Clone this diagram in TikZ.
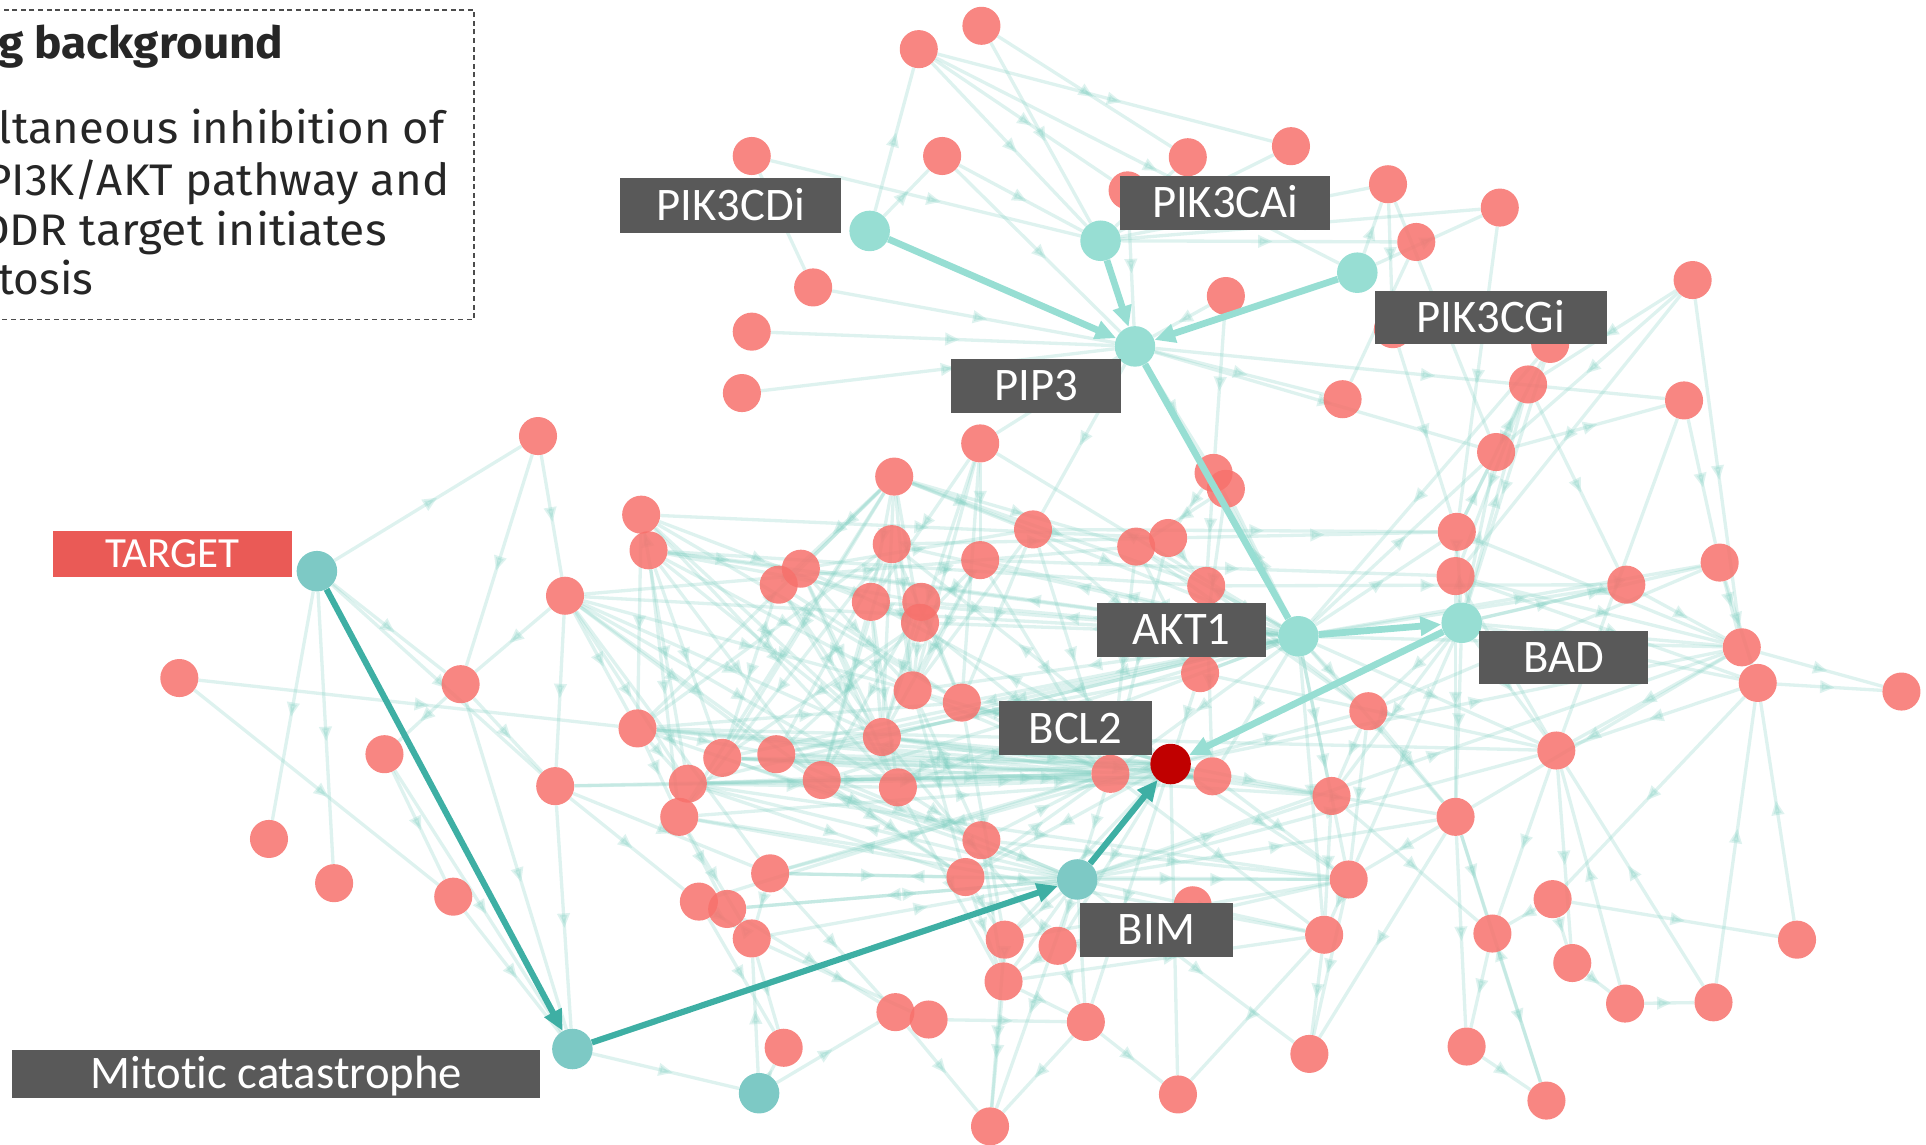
\documentclass[tikz,border=0pt]{standalone}
\usepackage{fontspec}
\setmainfont{Carlito}[Ligatures=NoCommon]
\newfontfamily\boxfont{Fira Sans}
\usetikzlibrary{arrows.meta,decorations.markings}
\definecolor{rednode}{HTML}{F7716C}
\definecolor{tealL}{HTML}{97DED3}
\definecolor{tealD}{HTML}{7DC9C5}
\definecolor{hlD}{HTML}{3EAFA4}
\definecolor{edgec}{HTML}{7CCDBF}
\definecolor{lblgray}{HTML}{595959}
\definecolor{tgtred}{HTML}{EA5A56}
\definecolor{bclred}{HTML}{C00000}
\definecolor{boxtext}{HTML}{262626}
\pgfdeclarelayer{edges}
\pgfdeclarelayer{reds}
\pgfdeclarelayer{hl}
\pgfsetlayers{edges,reds,hl,main}
\tikzset{
  rnode/.style={circle,minimum size=31pt,inner sep=0pt,fill=rednode,fill opacity=0.85,draw=none},
  tnode/.style={circle,minimum size=33pt,inner sep=0pt,fill=tealL,draw=none},
  dnode/.style={circle,minimum size=33pt,inner sep=0pt,fill=tealD,draw=none},
  bge/.style={draw=edgec,line width=2.7pt,opacity=0.25,postaction={decorate},
    decoration={markings,mark=at position 0.55 with {\arrow{Triangle[length=12pt,width=10pt]}}}},
  hlL/.style={draw=tealL,line width=5.5pt,-{Triangle[length=17pt,width=15pt]}},
  hlLn/.style={draw=tealL,line width=5.5pt},
  hlDk/.style={draw=hlD,line width=5pt,-{Triangle[length=17pt,width=15pt]}},
  lblbox/.style={rectangle,fill=lblgray,inner sep=0pt},
  lbltext/.style={text=white,inner sep=0pt,font=\fontsize{38}{44}\selectfont},
  bx/.style={anchor=base east,inner sep=0pt,text=boxtext,font=\boxfont\fontsize{36}{42}\selectfont},
}
\begin{document}
\begin{tikzpicture}[x=1pt,y=-1pt]
\useasboundingbox (0,0) rectangle (1568,932);
\clip (0,0) rectangle (1568,932);
% red nodes
\begin{pgfonlayer}{reds}
\foreach \n/\x/\y in {1/799/21,2/748/40,3/612/127,4/767/127,5/967/128,6/1051/119,7/1130/150,8/1221/169,9/1153/197,10/918/155,
11/662/234,12/612/270,13/604/320,14/998/241,15/1378/228,16/1262/280,17/1134/268,18/1244/313,19/1093/325,20/1371/326,
21/798/361,22/1218/368,23/438/355,24/728/388,25/988/385,26/998/398,27/522/419,28/528/448,29/841/431,30/726/443,
31/925/445,32/951/438,33/1186/433,34/1185/469,35/1400/458,36/1324/476,37/460/485,38/652/463,39/634/476,40/798/456,
41/709/490,42/750/490,43/749/507,44/982/477,45/146/552,46/375/557,47/743/562,48/783/572,49/977/548,50/1418/527,
51/1431/556,52/1548/563,53/313/614,54/519/593,55/588/617,56/632/614,57/718/600,58/1114/579,59/1267/611,60/560/638,
61/553/665,62/452/640,63/669/635,64/731/641,65/904/630,66/987/632,67/1084/648,68/219/683,69/272/719,70/799/684,
71/1185/665,72/627/711,73/786/714,74/1098/716,75/369/730,76/569/734,77/592/740,78/1264/732,79/612/764,80/818/765,
81/861/770,82/1078/761,83/1215/760,84/1463/765,85/1280/784,86/817/799,87/729/824,88/756/830,89/884/832,90/1323/817,
91/1395/816,92/638/853,93/1066/858,94/1194/852,95/959/891,96/806/917,97/1259/896,98/971/737}
  \node[rnode] (r\n) at (\x,\y) {};
\end{pgfonlayer}
% special nodes
\node[tnode] (cdi) at (708,188) {};
\node[tnode] (cai) at (896,196) {};
\node[tnode] (cgi) at (1105,222) {};
\node[tnode] (pip) at (924,282) {};
\node[tnode] (akt) at (1057,518) {};
\node[tnode] (bad) at (1190,507) {};
\node[dnode] (tgt) at (258,465) {};
\node[dnode] (mit) at (466,854) {};
\node[dnode] (t2) at (618,890) {};
\node[dnode] (bim) at (877,716) {};
\node[circle,minimum size=33pt,inner sep=0pt,fill=bclred] (bcl) at (953,622) {};
% background edges
\begin{pgfonlayer}{edges}
\foreach \a/\b in {r2/cai,r2/r10,r2/r6,r2/cgi,r1/cai,r1/r5,r3/cai,r4/cai,r4/pip,cdi/r4,cdi/r2,r11/pip,r12/pip,r13/pip,r10/pip,
r5/cai,r6/cai,cai/r7,cai/r8,cai/r9,cgi/r7,cgi/r8,r7/r17,r7/r22,r8/r33,r9/r19,r15/r34,r15/r18,r15/r22,r14/pip,r14/r25,
pip/r19,pip/r20,pip/r25,pip/r21,pip/r29,pip/r22,r16/r33,r18/r36,r20/r59,r17/r33,r16/akt,r3/r11,
r23/r37,r23/r46,tgt/r23,tgt/r68,tgt/r69,tgt/r46,tgt/r62,r45/r54,r45/r75,r46/r53,r46/r62,r46/mit,r53/r75,r37/r54,r37/r62,
r37/r46,r27/r28,r27/r54,r27/r60,r27/r41,r28/r55,r28/r61,r28/r47,r28/r38,r37/r56,r37/r63,r37/r72,r54/r60,r54/r61,r54/r56,
r54/r24,r54/r30,r54/r48,r54/r65,r62/r72,r62/r76,r62/mit,r75/mit,r61/r77,r61/r79,r60/r64,r60/r73,mit/t2,r53/mit,
r24/r38,r24/r39,r24/r41,r24/r55,r24/r61,r24/r31,r24/r44,r24/r29,r24/akt,r30/r56,r30/r63,r30/r32,r38/r57,r38/r29,r39/r55,
r39/r64,r41/r57,r42/r48,r43/r47,r43/r65,r47/r70,r47/r73,r48/r80,r48/r66,r57/r81,r63/r73,r64/r86,r21/r40,r21/r41,r21/r47,
r29/r49,r29/r33,r31/r49,r32/r44,r32/r33,r40/r43,r40/r34,r44/akt,r44/r36,r49/bcl,r65/bim,r66/r74,r70/bim,r73/r80,r72/r79,
r76/r92,r77/r87,r79/r88,r86/r96,r87/r96,r88/r89,r80/r96,r81/r89,r70/r86,
akt/r25,akt/r26,akt/r31,akt/r49,akt/r58,akt/r67,akt/r74,akt/r71,akt/r59,akt/r82,akt/r65,akt/r66,akt/r50,akt/r36,akt/r35,
akt/r22,akt/r33,akt/r57,akt/r64,akt/r63,akt/r28,akt/r37,
bcl/r54,bcl/r60,bcl/r55,bcl/r56,bcl/r57,bcl/r30,bcl/r41,bcl/r48,bcl/r65,bcl/r66,bcl/r67,bcl/r58,bcl/r50,bcl/r73,bcl/r74,
bcl/r81,bcl/r89,bcl/r95,bcl/r80,bcl/r72,
bim/r54,bim/r61,bim/r60,bim/r72,bim/r77,bim/r80,bim/r81,bim/r86,bim/r89,bim/r74,bim/r82,bim/r67,bim/r59,bim/r50,bim/r71,
bim/r96,bim/r93,
r33/r34,r33/r22,r22/r18,r22/r20,r33/r50,r34/r50,r34/r51,r34/r59,r34/r71,r36/r50,r35/r50,r35/r51,r20/r35,r15/r50,r50/r52,
r51/r52,r50/r59,r51/r59,r50/r71,r51/r78,r59/r85,r59/r83,r71/r83,r71/r94,r71/r74,r71/r93,r78/r83,r78/r85,r78/r84,r84/r51,
r85/r90,r83/r97,r83/r94,r90/r59,r91/r59,r91/r51,r97/r71,r74/r82,r74/r93,r82/r93,r58/r74,r58/r67,r58/r71,r67/r82,r67/r83,
r58/r35,bad/r50,bad/r33,bad/r34,bad/r59,bad/r71,bad/r35,bad/r36,bad/r58,bad/r51,bad/r67,bad/r74,bad/r22,bad/r18,r16/bad,
r18/r34,r82/r95,r89/r95,r94/r97,r90/r91,
r31/r58,r44/r58,r49/r59,r66/r71,r65/r82,r64/r66,r63/r65,r57/r67,r56/bim,r54/r59,r55/r67,r60/r74,r61/r82,r62/r65,r56/r49,
r28/r44,r27/r32,r37/r31,r73/r86,r72/r87,r76/r79,r77/r79,r79/r92,r86/r89,r80/r86,r81/r86,r89/r96,t2/r79,t2/r92,t2/r87,
r27/r57,r27/r64,r27/r48,r28/r57,r28/r63,r28/r42,r37/r47,r37/r57,r37/r64,r37/r60,r38/r43,r38/r47,r38/r64,r39/r57,r39/r48,
r41/r63,r41/r64,r42/r57,r42/r63,r43/r56,r43/r55,r30/r47,r30/r48,r30/r61,r24/r57,r24/r47,r24/r43,r21/r48,r21/r57,r29/r47,
r29/r48,r29/r65,r40/r47,r40/r57,r40/r65,r31/r65,r32/r65,r44/r49,r44/r66,r26/r31,r25/r44,r25/r32,r26/r49,r47/r65,r47/r66,
r48/r65,r57/r65,r57/r66,r63/r66,r55/r65,r56/r65,r55/r66,r60/r65,r61/r66,r62/r66,r54/r66,r64/r65,r70/r65,r73/r65,r72/r65,
r76/r65,r77/bim,r79/bim,r70/r74,r73/r74,r80/r74,r81/r74,r86/r82,r72/r73,r63/r70,r64/r70,r56/r73,r55/r70,akt/r30,akt/r38,
akt/r41,akt/r42,akt/r43,akt/r47,akt/r48,akt/r55,akt/r56,akt/r60,akt/r21,akt/r40}
  \draw[bge] (\a) -- (\b);
\end{pgfonlayer}
% highlighted edges
\begin{pgfonlayer}{hl}
\draw[hlL] (cdi) -- (pip);
\draw[hlL] (cai) -- (pip);
\draw[hlL] (cgi) -- (pip);
\draw[hlLn] (pip) -- (akt);
\draw[hlL] (akt) -- (bad);
\draw[hlL] (bad) -- (bcl);
\draw[hlDk] (tgt) -- (mit);
\draw[hlDk] (mit) -- (bim);
\draw[hlDk] (bim) -- (bcl);
\end{pgfonlayer}
% labels
\node[lblbox,minimum width=180pt,minimum height=45pt] (lcdi) at (595,167.5) {};
\node[lbltext,anchor=base] at ([yshift=-12pt]lcdi.center) {PIK3CDi};
\node[lblbox,minimum width=171pt,minimum height=44pt] (lcai) at (997.5,165) {};
\node[lbltext,anchor=base] at ([yshift=-12pt]lcai.center) {PIK3CAi};
\node[lblbox,minimum width=139pt,minimum height=44pt] (lpip) at (843.5,314) {};
\node[lbltext,anchor=base] at ([yshift=-12pt]lpip.center) {PIP3};
\node[lblbox,minimum width=189pt,minimum height=43pt] (lcgi) at (1213.5,258.5) {};
\node[lbltext,anchor=base] at ([yshift=-12pt]lcgi.center) {PIK3CGi};
\node[rectangle,fill=tgtred,inner sep=0pt,minimum width=195pt,minimum height=38pt] (ltgt) at (140.5,451) {};
\node[lbltext,anchor=base,font=\fontsize{35}{40}\selectfont] at ([yshift=-11pt]ltgt.center) {TARGET};
\node[lblbox,minimum width=138pt,minimum height=44pt] (lakt) at (962,513) {};
\node[lbltext,anchor=base] at ([yshift=-12pt]lakt.center) {AKT1};
\node[lblbox,minimum width=138pt,minimum height=43pt] (lbad) at (1273,535.5) {};
\node[lbltext,anchor=base] at ([yshift=-12pt]lbad.center) {BAD};
\node[lblbox,minimum width=125pt,minimum height=44pt] (lbcl) at (875.5,593) {};
\node[lbltext,anchor=base] at ([yshift=-12pt]lbcl.center) {BCL2};
\node[lblbox,minimum width=125pt,minimum height=44pt] (lbim) at (941.5,757) {};
\node[lbltext,anchor=base] at ([yshift=-12pt]lbim.center) {BIM};
\node[lblbox,minimum width=430pt,minimum height=39pt] (lmit) at (225,874.5) {};
\node[lbltext,anchor=base] at ([yshift=-12pt]lmit.center) {Mitotic catastrophe};
% text box
\draw[dashed,dash pattern=on 4pt off 3pt,line width=1.2pt,draw=black!70] (-5,8) rectangle (386,260);
\node[bx,font=\boxfont\bfseries\fontsize{36}{42}\selectfont] (h1) at (231,48) {\scalebox{1.04}[1]{g background}};
\node[bx] (b1) at (362,117) {\scalebox{1.025}[1]{ltaneous inhibition of}};
\node[bx] (b2) at (366,159) {\scalebox{1.03}[1]{PI3K/AKT pathway and}};
\node[bx] (b3) at (315,200) {\scalebox{1.045}[1]{DDR target initiates}};
\node[bx] (b4) at (76,240) {tosis};
\end{tikzpicture}
\end{document}
